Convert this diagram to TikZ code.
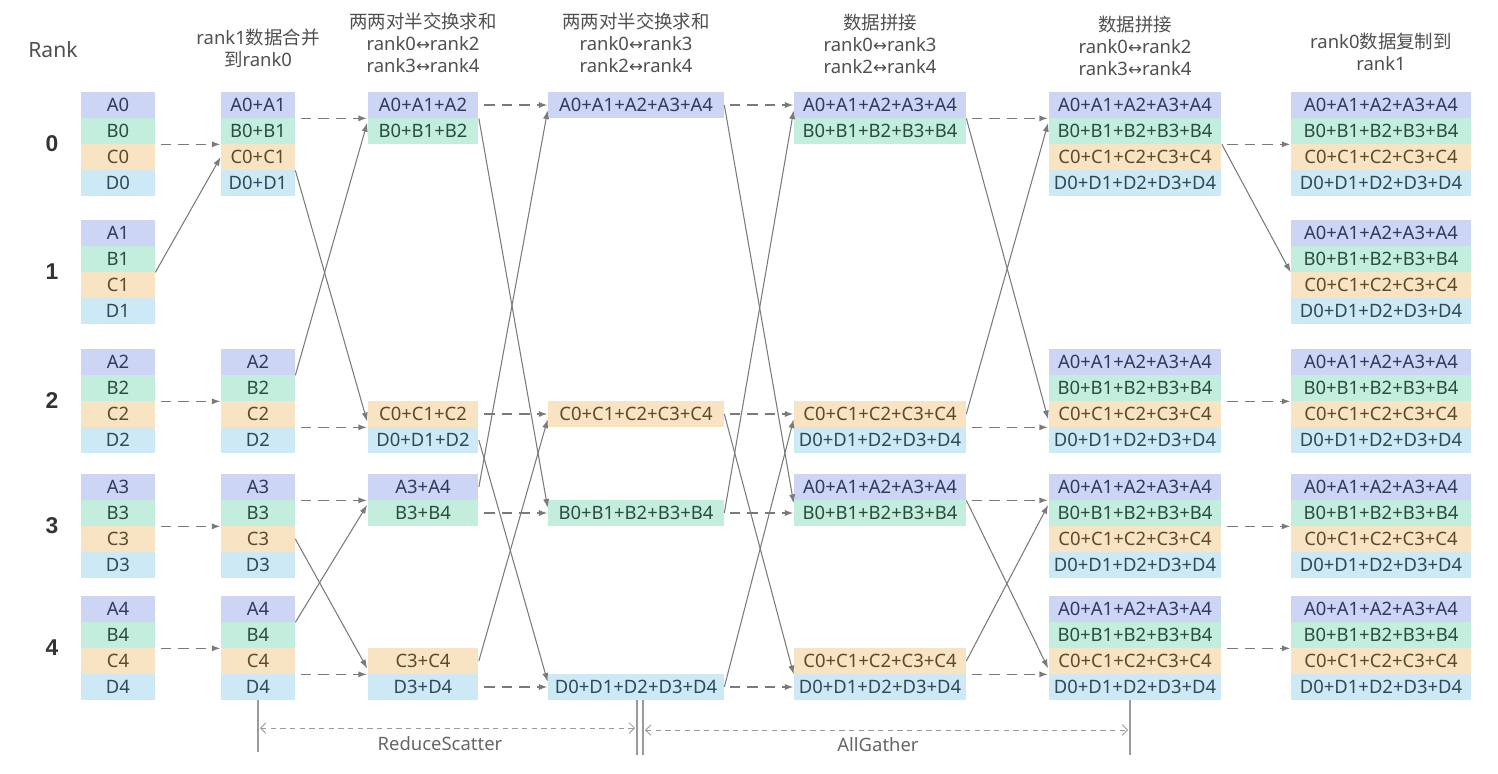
\documentclass[tikz,border=0pt]{standalone}
\usepackage{fontspec}
\setmainfont{Noto Sans}
\newfontfamily\cjk{Noto Sans CJK SC}
\newfontfamily\arrowfont{DejaVu Sans}
\newfontfamily\rankfont{Liberation Sans}
\usepackage{xcolor}
\usetikzlibrary{arrows.meta,positioning,calc}

\definecolor{fillA}{HTML}{CDD5F5}
\definecolor{fillB}{HTML}{C3EEDD}
\definecolor{fillC}{HTML}{F8E3C3}
\definecolor{fillD}{HTML}{CCE9F5}
\definecolor{inkA}{HTML}{2F3B5C}
\definecolor{inkB}{HTML}{2E4B42}
\definecolor{inkC}{HTML}{5B4A2E}
\definecolor{inkD}{HTML}{2D4A5A}
\definecolor{headgray}{HTML}{505050}
\definecolor{linegray}{HTML}{7A7A7A}
\definecolor{guidegray}{HTML}{9A9A9A}

\newcommand{\swap}{{\arrowfont\fontsize{9.5}{10}\selectfont ↔}}

\begin{document}
\begin{tikzpicture}[x=0.02cm,y=-0.02cm,
    cell/.style={fill=fill#1, text=ink#1, minimum height=0.52cm, inner sep=0pt,
        font=\fontsize{10.5}{12}\selectfont},
    head/.style={text=headgray, align=center, font=\fontsize{10.5}{12.5}\selectfont},
    ranknum/.style={text=black!80, font=\rankfont\fontsize{13}{15}\selectfont\bfseries},
    flow/.style={draw=linegray, line width=0.6pt, -{Latex[length=5pt,width=3.5pt]}},
    keep/.style={flow, line width=0.9pt, dash pattern=on 6pt off 4pt, shorten <=3pt},
    span/.style={draw=guidegray, line width=0.5pt, dash pattern=on 3pt off 2.5pt,
        {Straight Barb[length=3pt,width=6pt]}-{Straight Barb[length=3pt,width=6pt]}},
    tick/.style={draw=guidegray, line width=0.6pt},
    guidetext/.style={text=black!60, font=\fontsize{10.5}{12}\selectfont}]
    \useasboundingbox (0,0) rectangle (1498,774);

    % Rank labels and initial data
    \node[text=headgray, font=\fontsize{12}{14}\selectfont] (ranktitle) at (53,50) {Rank};
    \foreach \rk/\ytop in {0/92,1/220,2/349,3/474,4/596}{
        \node[ranknum] (rank\rk) at (52,{\ytop+52}) {\rk};
        \foreach \ltr/\i in {A/0,B/1,C/2,D/3}
            \node[cell=\ltr, minimum width=1.48cm] (c0r\rk\ltr) at (118,{\ytop+13+26*\i}) {\ltr\rk};
    }

    % Headers
    \node[head] (h1) at (258,48) {rank1{\cjk 数据合并}\\{\cjk 到}rank0};
    \node[head] (h2) at (423,43) {{\cjk 两两对半交换求和}\\rank0\swap rank2\\rank3\swap rank4};
    \node[head] (h3) at (636,43) {{\cjk 两两对半交换求和}\\rank0\swap rank3\\rank2\swap rank4};
    \node[head] (h4) at (880,44) {{\cjk 数据拼接}\\rank0\swap rank3\\rank2\swap rank4};
    \node[head] (h5) at (1135,46) {{\cjk 数据拼接}\\rank0\swap rank2\\rank3\swap rank4};
    \node[head] (h6) at (1381,52) {rank0{\cjk 数据复制到}\\rank1};

    % Column 1: rank1 merged into rank0
    \foreach \ltr/\i in {A/0,B/1,C/2,D/3}
        \node[cell=\ltr, minimum width=1.48cm] (c1r0\ltr) at (258,{105+26*\i}) {\ltr0+\ltr1};
    \foreach \rk/\ytop in {2/349,3/474,4/596}
        \foreach \ltr/\i in {A/0,B/1,C/2,D/3}
            \node[cell=\ltr, minimum width=1.48cm] (c1r\rk\ltr) at (258,{\ytop+13+26*\i}) {\ltr\rk};

    % Column 2: halves reduced
    \foreach \rk/\ltr/\yc/\txt in {0/A/105/A0+A1+A2, 0/B/131/B0+B1+B2, 2/C/414/C0+C1+C2, 2/D/440/D0+D1+D2,
                                  3/A/487/A3+A4, 3/B/513/B3+B4, 4/C/661/C3+C4, 4/D/687/D3+D4}
        \node[cell=\ltr, minimum width=2.22cm] (c2r\rk\ltr) at (423,\yc) {\txt};

    % Column 3: quarters reduced
    \foreach \rk/\ltr/\yc in {0/A/105, 2/C/414, 3/B/513, 4/D/687}
        \node[cell=\ltr, minimum width=3.52cm] (c3r\rk\ltr) at (636,\yc) {\ltr0+\ltr1+\ltr2+\ltr3+\ltr4};

    % Column 4: first gather
    \foreach \rk/\ltr/\yc in {0/A/105, 0/B/131, 2/C/414, 2/D/440, 3/A/487, 3/B/513, 4/C/661, 4/D/687}
        \node[cell=\ltr, minimum width=3.44cm] (c4r\rk\ltr) at (880,\yc) {\ltr0+\ltr1+\ltr2+\ltr3+\ltr4};

    % Column 5: second gather
    \foreach \rk/\ytop in {0/92,2/349,3/474,4/596}
        \foreach \ltr/\i in {A/0,B/1,C/2,D/3}
            \node[cell=\ltr, minimum width=3.46cm] (c5r\rk\ltr) at (1135,{\ytop+13+26*\i}) {\ltr0+\ltr1+\ltr2+\ltr3+\ltr4};

    % Column 6: copy back to rank1
    \foreach \rk/\ytop in {0/92,1/220,2/349,3/474,4/596}
        \foreach \ltr/\i in {A/0,B/1,C/2,D/3}
            \node[cell=\ltr, minimum width=3.6cm] (c6r\rk\ltr) at (1381,{\ytop+13+26*\i}) {\ltr0+\ltr1+\ltr2+\ltr3+\ltr4};

    % Step 1
    \draw[keep] (c0r0B.south east) -- (c1r0B.south west);
    \draw[flow] (c0r1B.south east) -- (c1r0C.west);
    \foreach \rk in {2,3,4}
        \draw[keep] (c0r\rk B.south east) -- (c1r\rk B.south west);

    % Step 2
    \draw[keep] (c1r0A.south east) -- (c2r0A.south west);
    \draw[flow] (c1r2A.south east) -- ([yshift=-3pt]c2r0B.north west);
    \draw[flow] (c1r0C.south east) -- ([yshift=3pt]c2r2D.north west);
    \draw[keep] (c1r2C.south east) -- (c2r2C.south west);
    \draw[keep] (c1r3A.south east) -- (c2r3A.south west);
    \draw[flow] (c1r4A.south east) -- ([yshift=-3pt]c2r3B.north west);
    \draw[flow] (c1r3C.east) -- ([yshift=3pt]c2r4D.north west);
    \draw[keep] (c1r4C.south east) -- (c2r4C.south west);

    % Step 3
    \draw[keep] (c2r0A.east) -- (c3r0A.west);
    \draw[flow] (c2r0A.south east) -- ([yshift=3pt]c3r3B.west);
    \draw[flow] (c2r3A.east) -- ([yshift=-3pt]c3r0A.west);
    \draw[keep] (c2r3B.east) -- (c3r3B.west);
    \draw[keep] (c2r2C.east) -- (c3r2C.west);
    \draw[flow] (c2r2D.east) -- ([yshift=3pt]c3r4D.west);
    \draw[flow] (c2r4C.east) -- ([yshift=-3pt]c3r2C.west);
    \draw[keep] (c2r4D.east) -- (c3r4D.west);

    % Step 4
    \draw[keep] (c3r0A.east) -- (c4r0A.west);
    \draw[flow] (c3r0A.east) -- ([yshift=-2pt]c4r3B.north west);
    \draw[flow] (c3r3B.east) -- ([yshift=-3pt]c4r0A.west);
    \draw[keep] (c3r3B.east) -- (c4r3B.west);
    \draw[keep] (c3r2C.east) -- (c4r2C.west);
    \draw[flow] (c3r2C.east) -- (c4r4C.south west);
    \draw[flow] (c3r4D.east) -- ([yshift=-3pt]c4r2C.west);
    \draw[keep] (c3r4D.east) -- (c4r4D.west);

    % Step 5
    \draw[keep] (c4r0A.south east) -- (c5r0A.south west);
    \draw[flow] (c4r0A.south east) -- ([yshift=-3pt]c5r2C.west);
    \draw[flow] (c4r2C.east) -- ([yshift=-3pt]c5r0B.north west);
    \draw[keep] (c4r2C.south east) -- (c5r2C.south west);
    \draw[keep] (c4r3A.south east) -- (c5r3A.south west);
    \draw[flow] (c4r3A.south east) -- ([yshift=3pt]c5r4D.north west);
    \draw[flow] (c4r4C.east) -- ([yshift=-3pt]c5r3B.north west);
    \draw[keep] (c4r4C.south east) -- (c5r4C.south west);

    % Step 6
    \draw[keep] (c5r0B.south east) -- (c6r0B.south west);
    \draw[flow] (c5r0B.south east) -- (c6r1B.south west);
    \foreach \rk in {2,3,4}
        \draw[keep] (c5r\rk B.south east) -- (c6r\rk B.south west);

    % Phases
    \draw[tick] (c1r4D.south) -- ++(0,52);
    \draw[tick] ([xshift=0.02cm]c3r4D.south) -- ++(0,55);
    \draw[tick] ([xshift=0.14cm]c3r4D.south) -- ++(0,55);
    \draw[tick] ([xshift=-0.1cm]c5r4D.south) -- ++(0,55);
    \draw[span] (260,728) -- (635,728);
    \draw[span] (645,730) -- (1128,730);
    \node[guidetext] (rslabel) at (440,744) {ReduceScatter};
    \node[guidetext] (aglabel) at (878,745) {AllGather};
\end{tikzpicture}
\end{document}
